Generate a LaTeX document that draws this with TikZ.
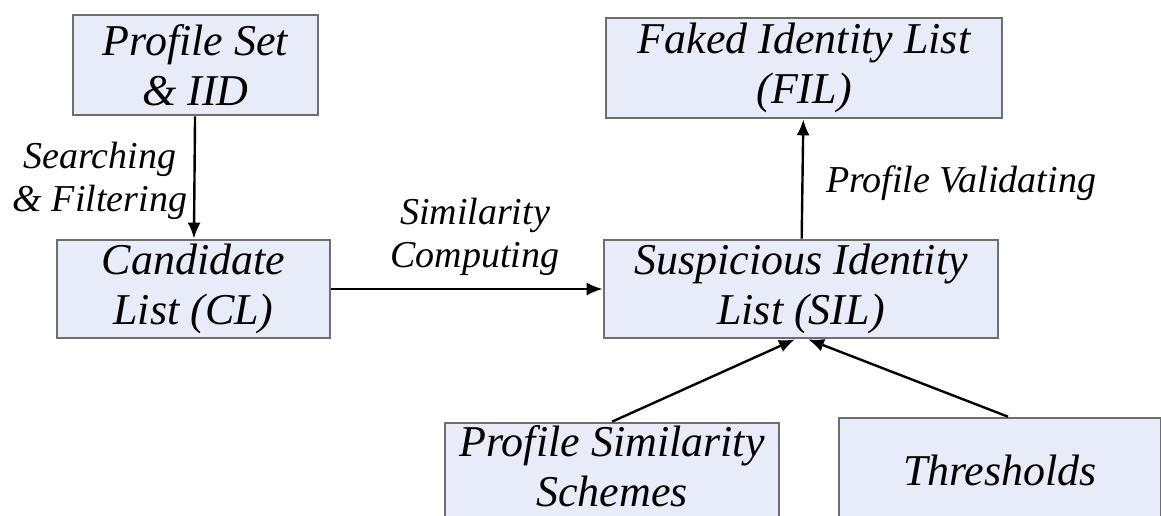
\documentclass[tikz,border=0pt]{standalone}
\usepackage{fontspec}
\setmainfont{Liberation Serif}
\usetikzlibrary{arrows.meta,calc}
\definecolor{boxfill}{HTML}{E8ECF8}
\definecolor{boxline}{HTML}{6E6E6E}
\begin{document}
\begin{tikzpicture}[x=1pt,y=-1pt,
  stage/.style={draw=boxline,fill=boxfill,line width=2.6pt,inner sep=0pt,
    align=center,font=\fontsize{44}{50}\selectfont\itshape},
  stagetext/.style={inner sep=0pt,align=center,font=\fontsize{44}{50}\selectfont\itshape},
  lbl/.style={align=center,inner sep=0pt,font=\fontsize{38}{43}\selectfont\itshape},
  flow/.style={line width=2.4pt,-{Latex[length=16pt,width=13pt]}}]
\clip (0,0) rectangle (1161,516);
\fill[white] (0,0) rectangle (1161,516);
% stage boxes
\node[stage,minimum width=245pt,minimum height=100pt] (ps)  at (195.5,65) {Profile Set\\\& IID};
\node[stage,minimum width=396pt,minimum height=100pt] (fil) at (804,68)   {Faked Identity List\\(FIL)};
\node[stage,minimum width=273pt,minimum height=98pt]  (cl)  at (193.5,289) {Candidate\\List (CL)};
\node[stage,minimum width=394pt,minimum height=98pt]  (sil) at (801,289)  {Suspicious Identity\\List (SIL)};
% lower boxes run past the bottom edge
\node[stage,minimum width=334pt,minimum height=100pt] (pss) at (612,473)  {};
\node[stagetext] (psst) at (612,466) {Profile Similarity\\Schemes};
\node[stage,minimum width=322pt,minimum height=104pt] (th)  at (1000,470) {Thresholds};
% transitions
\draw[flow] (ps) -- (cl);
\draw[flow] (cl) -- (sil);
\draw[flow] (sil) -- (fil);
\coordinate (silL) at ($(sil.south)+(-6,0)$);
\coordinate (silR) at ($(sil.south)+(7,0)$);
\draw[flow] (pss.north) -- (silL);
\draw[flow] ($(th.north)+(8,0)$) -- (silR);
% transition labels
\node[lbl] (l1) at (100,181) {Searching\\\& Filtering};
\node[lbl] (l2) at (475,237) {Similarity\\Computing};
\node[lbl] (l3) at (961,183) {Profile Validating};
\end{tikzpicture}
\end{document}
